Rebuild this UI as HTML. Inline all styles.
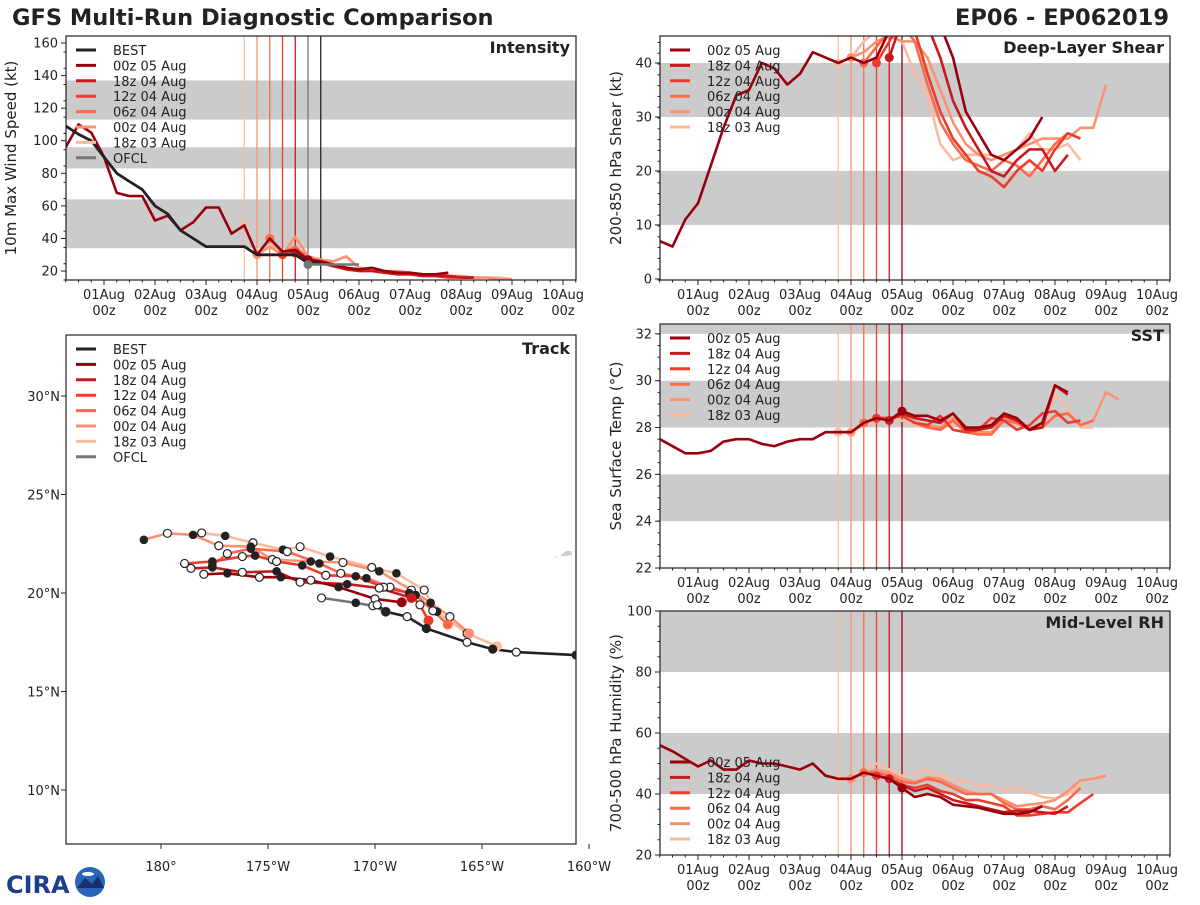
<!DOCTYPE html>
<html><head><meta charset="utf-8">
<style>
body{margin:0;background:#fff;}
svg text{font-family:"DejaVu Sans","Liberation Sans",sans-serif;fill:#222;}
</style></head>
<body>
<svg id="fig" width="1200" height="900" viewBox="0 0 1200 900" xmlns="http://www.w3.org/2000/svg">
<text x="12" y="25" font-size="22.5" font-weight="bold">GFS Multi-Run Diagnostic Comparison</text>
<text x="1169" y="25" font-size="22.5" font-weight="bold" text-anchor="end">EP06 - EP062019</text>
<g>
<text x="6" y="893" font-size="24" font-weight="bold" fill="#1d3f8a" style="fill:#1d3f8a">CIRA</text>
<circle cx="90" cy="882" r="15" fill="#2a66b8"/>
<path d="M77,888 L85,878 L92,884 L98,876 L104,888 Z" fill="#1b2f6e"/>
<ellipse cx="88" cy="874" rx="6" ry="2" fill="#fff"/>
</g>
</svg>
<script>
// ---------- data ----------
const runNames = ["00z 05 Aug","18z 04 Aug","12z 04 Aug","06z 04 Aug","00z 04 Aug","18z 03 Aug"];
const runColors = ["#99000d","#cb181d","#ef3b2c","#fb6a4a","#fc9272","#fcbba1"];
const runStart = [0.25,4.75,4.5,4.25,4.0,3.75]; // days after 31 Jul 00z
const initDays = [5.0,4.75,4.5,4.25,4.0,3.75];
const dayLabels = ["01Aug","02Aug","03Aug","04Aug","05Aug","06Aug","07Aug","08Aug","09Aug","10Aug"];
const dayTicks = [1,2,3,4,5,6,7,8,9,10];

const bestStart = 0.25;
const bestVmax = [109,104,100,90,80,75,70,60,55,45,40,35,35,35,35,30,30,30,30,25,25];
const ofclStart = 5.0;
const ofclVmax = [24,24,24,24,24];

const vmax00z05 = [96,110,105,90,68,66,66,51,54,45,50,59,59,43,48,30,40,32,33,27,26,24,22,21,22,20,19,19,18,18,19];
const vmax18z04 = [31,27,25,23,21,20,20,19,18,18,17,17,17,16,16];
const vmax12z04 = [30,33,27,25,23,22,20,20,19,18,18,17,17,16,16,16];
const vmax06z04 = [40,31,35,28,26,24,22,21,20,20,19,18,18,17,17,16,16];
const vmax00z04 = [30,35,30,41,29,27,26,29,22,21,20,20,19,18,18,17,17,16,16,15,15];
const vmax18z03 = [48,31,36,29,34,28,25,24,22,21,20,19,19,18,18,17,17,16,16,16,16,15];

const shr00z05 = [7,6,11,14,21,28,34,35,40,39,36,38,42,41,40,41,40,41,46,48,49,49,47,41,31,27,23,22,24,26,30];
const shr18z04 = [41,48,48,47,41,33,28,24,20,19,22,24,24,20,23];
const shr12z04 = [40,44,48,46,38,31,26,23,20,19,17,20,22,20,24,27,26];
const shr06z04 = [40,43,46,47,44,36,29,25,22,21,20,22,21,19,22,25,27];
const shr00z04 = [41,42,44,45,44,44,41,35,29,25,23,22,23,24,25,26,26,26,28,28,36];
const shr18z03 = [40,41,44,46,45,44,38,34,25,22,23,23,23,22,24,27,24,24,25,22];

const sst00z05 = [27.5,27.2,26.9,26.9,27.0,27.4,27.5,27.5,27.3,27.2,27.4,27.5,27.5,27.8,27.8,27.8,28.2,28.4,28.3,28.7,28.5,28.5,28.3,28.6,28.0,28.0,28.1,28.6,28.4,27.9,28.2,29.8,29.5];
const sst18z04 = [28.3,28.6,28.4,28.3,28.2,28.6,27.9,27.9,28.0,28.5,28.3,27.9,28.0,29.8,29.4];
const sst12z04 = [28.4,28.4,28.5,28.2,28.1,28.5,27.9,27.8,27.9,28.4,28.3,27.9,28.1,28.6,28.7,28.2,28.3];
const sst06z04 = [28.2,28.4,28.4,28.5,28.2,28.0,27.9,28.3,27.8,27.7,27.7,28.3,28.2,27.9,28.0,28.5,28.6,28.1,28.3];
const sst00z04 = [27.8,28.2,28.4,28.4,28.5,28.2,28.1,28.0,28.4,27.9,27.8,27.8,28.4,28.2,28.0,28.0,28.5,28.6,28.1,28.3,29.5,29.2];
const sst18z03 = [27.8,27.8,28.1,28.3,28.3,28.3,28.1,28.0,27.9,28.2,27.9,27.8,27.8,28.3,28.2,27.9,28.0,29.4,28.8,28.0,28.0];

const rh00z05 = [56,54,51.5,49,51,48,48,51,50,50,49,48,50,46,45,45,47,46,45,42,39,40,39,36.5,36,35.5,34.5,33.5,33.5,34,36];
const rh18z04 = [45,43,41,42,40,38,37,36,35,34,34.5,34.5,34,33.5,36];
const rh12z04 = [46,45,43,42,43,41,40,38,38,37,36,33,33,33.5,34,34,37,40];
const rh06z04 = [47,47,46,44,43.5,45,44,42,40,40,40,37,35,35,36,35,38,42];
const rh00z04 = [45,47,48,47,45,44,45.5,45,43,41,40,40,38,36,36.5,37,38,41,44.5,45,46];
const rh18z03 = [45,46,48,50,48,46,47,48,46,45,44,43,42.5,41.5,42,40.5,39,38.5,40,43];

// track (lon in degrees east, 0-360; lat in degrees north)
const bestLon = [199.4,196.6,195.5,194.3,192.4,191.5,190.5,190.1];
const bestLat = [16.85,17.0,17.15,17.5,18.2,18.8,19.05,19.4];
const ofclLon = [190.5,189.9,189.1,187.5];
const ofclLat = [19.05,19.35,19.5,19.75];
const trk00z05Lon = [191.25,190.0,188.3,187.0,185.6,184.6,183.1,182.0];
const trk00z05Lat = [19.53,19.7,20.3,20.65,20.8,20.8,21.0,20.95];
const trk18z04Lon = [191.7,190.2,188.7,186.5,185.4,183.8,182.4,181.4];
const trk18z04Lat = [19.75,20.25,20.45,20.55,21.1,21.05,21.3,21.25];
const trk12z04Lon = [192.5,192.1,191.6,190.4,189.1,187.7,186.6,185.4,184.4,183.8,182.4,181.1];
const trk12z04Lat = [18.6,19.4,20.0,20.3,20.85,20.9,21.4,21.6,21.9,21.85,21.6,21.5];
const trk06z04Lon = [193.4,192.7,191.9,190.7,189.6,188.4,187.4,185.9,184.2,183.1,182.4];
const trk06z04Lat = [18.4,19.1,19.9,20.3,20.75,21.0,21.5,22.1,22.25,22.0,21.4];
const trk00z04Lon = [194.4,193.5,192.6,191.7,190.2,188.5,187.0,185.2,184.2,182.7,181.5,180.3,179.2];
const trk00z04Lat = [17.95,18.8,19.5,20.15,21.1,21.55,21.6,21.7,22.35,22.4,22.95,23.03,22.7];
const trk18z03Lon = [195.7,194.3,192.9,192.3,191.0,189.85,187.9,186.5,185.7,184.3,183.0,181.9];
const trk18z03Lat = [17.3,17.95,19.05,20.15,21.0,21.3,21.85,22.35,22.2,22.55,22.9,23.05];

// ---------- drawing ----------
const NS="http://www.w3.org/2000/svg";
const svg=document.getElementById('fig');
function mk(tag,attrs,parent){const e=document.createElementNS(NS,tag);for(const k in attrs)e.setAttribute(k,attrs[k]);(parent||svg).appendChild(e);return e;}
function txt(s,attrs,parent){const e=mk('text',attrs,parent);e.textContent=s;return e;}

function tsPanel(cfg){
  const g=mk('g',{});
  
  
  const L=cfg.x0,T=cfg.y0,W=cfg.w,H=cfg.h;
  const xs=d=>cfg.xOrigin+d*51;
  const ys=v=>T+H-(v-cfg.vmin)/(cfg.vmax-cfg.vmin)*H;
  const cid='clip-'+cfg.name;
  const cp=mk('clipPath',{id:cid},g);mk('rect',{x:L,y:T,width:W,height:H},cp);
  const bands=mk('g',{'clip-path':`url(#${cid})`},g);
  cfg.bands.forEach(b=>{const r=mk('rect',{x:L,y:ys(b[1]),width:W,height:ys(b[0])-ys(b[1]),fill:'#cbcbcb'},bands);
    });
  cfg.vlines.forEach(v=>{const l=mk('line',{x1:xs(v[0]),x2:xs(v[0]),y1:T,y2:T+H,stroke:v[1],'stroke-width':1.3},bands);
    });
  const lines=mk('g',{'clip-path':`url(#${cid})`},g);
  cfg.series.slice().reverse().forEach(s=>{
    const pts=s.vals.map((v,i)=>xs(s.start+i*0.25).toFixed(1)+','+ys(v).toFixed(1)).join(' ');
    const p=mk('polyline',{points:pts,fill:'none',stroke:s.color,'stroke-width':s.w||2.6,'stroke-linejoin':'round'},lines);
    
    if(s.dot){const c=mk('circle',{cx:xs(s.dotDay),cy:ys(s.vals[Math.round((s.dotDay-s.start)/0.25)]),r:4.5,fill:s.color},lines);
      }
  });
  mk('rect',{x:L,y:T,width:W,height:H,fill:'none',stroke:'#222','stroke-width':1.2},g);
  cfg.yTicks.forEach(v=>{const y=ys(v);mk('line',{x1:L-5,x2:L,y1:y,y2:y,stroke:'#222'},g);
    const t=txt(String(v),{x:L-8,y:y+4.5,'font-size':13,'text-anchor':'end'},g);
    });
  for(let v=cfg.vmin;v<=cfg.vmax;v+=cfg.minor){mk('line',{x1:L-2.5,x2:L,y1:ys(v),y2:ys(v),stroke:'#222'},g);}
  for(let d=0.25;d<=10.26;d+=0.25){const x=xs(d);if(x<L-0.5||x>L+W+0.5)continue;
    const major=Math.abs(d-Math.round(d))<0.01;mk('line',{x1:x,x2:x,y1:T+H,y2:T+H+(major?5:2.5),stroke:'#222'},g);}
  dayTicks.forEach((d,i)=>{const x=xs(d);
    const t1=txt(dayLabels[i],{x:x,y:T+H+19,'font-size':13,'text-anchor':'middle'},g);
    
    const t2=txt('00z',{x:x,y:T+H+35,'font-size':13,'text-anchor':'middle'},g);
    });
  const yl=txt(cfg.ylabel,{x:0,y:0,'font-size':15,'text-anchor':'middle',transform:`translate(${cfg.ylabelX},${T+H/2}) rotate(-90)`},g);
  
  const pt=txt(cfg.title,{x:L+W-6,y:T+17,'font-size':16,'font-weight':'bold','text-anchor':'end'},g);
  
  legend(g,L+10,cfg.legendY,cfg.legend);
}
function legend(g,x,y,items){
  const lg=mk('g',{},g);
  
  items.forEach((it,i)=>{const yy=y+i*15.4;
    const e=mk('g',{},lg);
    mk('line',{x1:x,x2:x+20,y1:yy,y2:yy,stroke:it[1],'stroke-width':3},e);
    txt(it[0],{x:x+37,y:yy+5,'font-size':13},e);});
}

const vl = [[3.75,runColors[5]],[4.0,runColors[4]],[4.25,runColors[3]],[4.5,runColors[2]],[4.75,runColors[1]],[5.0,runColors[0]]];
const runLegend = runNames.map((n,i)=>[n,runColors[i]]);
function runs(arrs){return arrs.map((a,i)=>({id:runNames[i].replace(/ /g,'-'),vals:a,start:runStart[i],color:runColors[i],dot:true,dotDay:initDays[i]}));}

const intRuns=runs([vmax00z05,vmax18z04,vmax12z04,vmax06z04,vmax00z04,vmax18z03]);
tsPanel({name:'intensity-panel',x0:66,y0:36,w:510,h:244,xOrigin:53,vmin:14.5,vmax:164.3,
  bands:[[34,64],[83,96],[113,137]],
  vlines:vl.slice(0,5).concat([[5.0,'#777'],[5.25,'#222']]),
  series:[{id:'ofcl',vals:ofclVmax,start:ofclStart,color:'#777',dot:true,dotDay:ofclStart},
    {id:'best',vals:bestVmax,start:bestStart,color:'#222',w:2.8}].concat(intRuns),
  yTicks:[20,40,60,80,100,120,140,160],minor:10,ylabel:'10m Max Wind Speed (kt)',ylabelX:16,title:'Intensity',legendY:50,
  legend:[['BEST','#222']].concat(runLegend,[['OFCL','#777']])});
tsPanel({name:'shear-panel',x0:660,y0:36,w:510,h:244,xOrigin:647,vmin:-0.2,vmax:45,
  bands:[[10,20],[30,40]],vlines:vl,
  series:runs([shr00z05,shr18z04,shr12z04,shr06z04,shr00z04,shr18z03]),
  yTicks:[0,10,20,30,40],minor:2,ylabel:'200-850 hPa Shear (kt)',ylabelX:621,title:'Deep-Layer Shear',legendY:50,legend:runLegend});
tsPanel({name:'sst-panel',x0:660,y0:324,w:510,h:244,xOrigin:647,vmin:22,vmax:32.42,
  bands:[[24,26],[28,30],[32,34]],vlines:vl,
  series:runs([sst00z05,sst18z04,sst12z04,sst06z04,sst00z04,sst18z03]),
  yTicks:[22,24,26,28,30,32],minor:0.5,ylabel:'Sea Surface Temp (°C)',ylabelX:621,title:'SST',legendY:338,legend:runLegend});
tsPanel({name:'rh-panel',x0:660,y0:611,w:510,h:244,xOrigin:647,vmin:20,vmax:100,
  bands:[[40,60],[80,100]],vlines:vl,
  series:runs([rh00z05,rh18z04,rh12z04,rh06z04,rh00z04,rh18z03]),
  yTicks:[20,40,60,80,100],minor:5,ylabel:'700-500 hPa Humidity (%)',ylabelX:621,title:'Mid-Level RH',legendY:762,legend:runLegend});

(function(){
  const g=mk('g',{});
  
  
  const L=66,T=335,W=510,H=509;
  const xs=lon=>161+(lon-180)*21.4;
  const ys=lat=>593-(lat-20)*19.7;
  const cp=mk('clipPath',{id:'clip-trk'},g);
  mk('rect',{x:L,y:T,width:W,height:H},cp);
  const c=mk('g',{'clip-path':'url(#clip-trk)'},g);
  const isl=mk('path',{d:'M560,556 L566,551 L571,551 L572,555 L566,556 Z M553,558 l3,-2 l1,1 z',fill:'#cbcbcb'},c);
  
  const tracks=[
    ['18z-03-aug',trk18z03Lon,trk18z03Lat,runColors[5]],
    ['00z-04-aug',trk00z04Lon,trk00z04Lat,runColors[4]],
    ['06z-04-aug',trk06z04Lon,trk06z04Lat,runColors[3]],
    ['12z-04-aug',trk12z04Lon,trk12z04Lat,runColors[2]],
    ['18z-04-aug',trk18z04Lon,trk18z04Lat,runColors[1]],
    ['00z-05-aug',trk00z05Lon,trk00z05Lat,runColors[0]],
    ['ofcl',ofclLon,ofclLat,'#777'],
    ['best',bestLon,bestLat,'#222']];
  tracks.forEach(t=>{
    const pts=t[1].map((lo,i)=>xs(lo).toFixed(1)+','+ys(t[2][i]).toFixed(1)).join(' ');
    const p=mk('polyline',{points:pts,fill:'none',stroke:t[3],'stroke-width':2.6},c);
    
  });
  tracks.forEach(t=>{
    t[1].forEach((lo,i)=>{
      let m;
      if(i===0 && t[0]!=='best'){ m=mk('circle',{cx:xs(lo),cy:ys(t[2][i]),r:5,fill:t[3]},c); }
      else if(i%2===1 || t[0]==='best'){ m=mk('circle',{cx:xs(lo),cy:ys(t[2][i]),r:4,fill:(i%2? '#fff':'#222'),stroke:'#222','stroke-width':1.2},c); }
      else { m=mk('circle',{cx:xs(lo),cy:ys(t[2][i]),r:4.3,fill:'#222'},c); }
      
    });
  });
  mk('rect',{x:L,y:T,width:W,height:H,fill:'none',stroke:'#222','stroke-width':1.2},g);
  const lonTicks=[180,185,190,195,200];
  const lonLabels=['180°','175°W','170°W','165°W','160°W'];
  lonTicks.forEach((lo,i)=>{const x=xs(lo);mk('line',{x1:x,x2:x,y1:T+H,y2:T+H+5,stroke:'#222'},g);
    const tl=txt(lonLabels[i],{x:x,y:T+H+27,'font-size':13,'text-anchor':'middle'},g);
    });
  const latTicks=[10,15,20,25,30];
  latTicks.forEach(la=>{const y=ys(la);mk('line',{x1:L-5,x2:L,y1:y,y2:y,stroke:'#222'},g);
    const tl=txt(la+'°N',{x:L-6,y:y+5,'font-size':13,'text-anchor':'end'},g);
    });
  const pt=txt('Track',{x:L+W-6,y:T+19,'font-size':16,'font-weight':'bold','text-anchor':'end'},g);
  
  legend(g,76,349,[['BEST','#222']].concat(runLegend,[['OFCL','#777']]));
})();
</script>
</body></html>
